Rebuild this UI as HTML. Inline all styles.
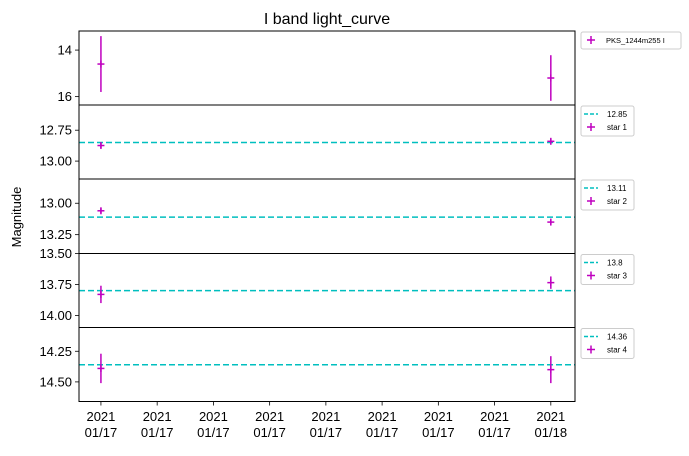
<!DOCTYPE html>
<html><head><meta charset="utf-8"><style>
body{margin:0;background:#fff}
svg{font-family:"Liberation Sans","DejaVu Sans",sans-serif}
</style></head><body>
<svg id="c" width="689" height="451" xmlns="http://www.w3.org/2000/svg">
<rect width="689" height="451" fill="#fff"/>
<text x="327" y="24" font-size="16" text-anchor="middle">I band light_curve</text>
<text transform="translate(21,217) rotate(-90)" font-size="13" text-anchor="middle">Magnitude</text>
<g id="g"></g>
</svg>
<script>
const xTickLabels=["2021\n01/17","2021\n01/17","2021\n01/17","2021\n01/17","2021\n01/17","2021\n01/17","2021\n01/17","2021\n01/17","2021\n01/18"];
const pointX=[0,8];
const srcMag=[14.6,15.2];
const srcErr=[1.2,0.98];
const star1Mag=[12.874,12.84];
const star1Err=[0.02,0.02];
const star2Mag=[13.06,13.15];
const star2Err=[0.02,0.02];
const star3Mag=[13.83,13.735];
const star3Err=[0.07,0.05];
const star4Mag=[14.39,14.40];
const star4Err=[0.12,0.11];
const refLevels=[null,12.85,13.11,13.8,14.36];
const legendLabels=["PKS_1244m255 I","star 1","star 2","star 3","star 4"];
const yTicks=[[14,16],[12.75,13.00],[13.00,13.25],[13.50,13.75,14.00],[14.25,14.50]];
const yTickText=[["14","16"],["12.75","13.00"],["13.00","13.25"],["13.50","13.75","14.00"],["14.25","14.50"]];
const yLims=[[13.18,16.36],[12.546,13.145],[12.807,13.40],[13.50,14.097],[14.056,14.66]];

const series=[[srcMag,srcErr],[star1Mag,star1Err],[star2Mag,star2Err],[star3Mag,star3Err],[star4Mag,star4Err]];
const NS="http://www.w3.org/2000/svg";
const g=document.getElementById('g');
const L=79,R=575,tops=[31,105,179,253.5,327.5,401.5];
const xs=v=>L+(v+0.39)/(8.82)*(R-L);
function el(t,a,p){const e=document.createElementNS(NS,t);for(const k in a)e.setAttribute(k,a[k]);(p||g).appendChild(e);return e;}
for(let i=0;i<5;i++){
  const t=tops[i],b=tops[i+1],lim=yLims[i];
  const ys=v=>t+(v-lim[0])/(lim[1]-lim[0])*(b-t);
  const pg=el('g',{});
  
  
  if(refLevels[i]!==null){
    const ln=el('line',{x1:L,x2:R,y1:ys(refLevels[i]),y2:ys(refLevels[i]),stroke:'#00bfbf','stroke-width':1.5,'stroke-dasharray':'6,3'},pg);
    
    
  }
  const [m,e]=series[i];
  for(let j=0;j<m.length;j++){
    const x=xs(pointX[j]),y=ys(m[j]);
    const pt=el('g',{stroke:'#bf00bf','stroke-width':1.5},pg);
    
    
    el('line',{x1:x,x2:x,y1:ys(m[j]-e[j]),y2:ys(m[j]+e[j])},pt);
    el('line',{x1:x,x2:x,y1:y-3.5,y2:y+3.5},pt);
    el('line',{x1:x-3.5,x2:x+3.5,y1:y,y2:y},pt);
  }
  yTicks[i].forEach((v,k)=>{
    const y=ys(v);
    el('line',{x1:L-4,x2:L,y1:y,y2:y,stroke:'#000','stroke-width':0.8},pg);
    const tx=el('text',{x:L-7,y:y+4.5,'font-size':13,'text-anchor':'end'},pg);
    tx.textContent=yTickText[i][k];
    
    
  });
  const fr=el('rect',{x:L,y:t,width:R-L,height:b-t,fill:'none',stroke:'#000','stroke-width':1},pg);
  
  
  const lg=el('g',{},pg);
  
  
  const w=i==0?100:53, h=i==0?17:30;
  el('rect',{x:581,y:t+1,width:w,height:h,rx:2,fill:'#fff',stroke:'#ccc','stroke-width':1},lg);
  let ly=t+9;
  if(i>0){
    el('line',{x1:584,x2:598,y1:ly,y2:ly,stroke:'#00bfbf','stroke-width':1.5,'stroke-dasharray':'4,2'},lg);
    const lt=el('text',{x:607,y:ly+3,'font-size':8},lg);lt.textContent=String(refLevels[i]);
    ly+=13;
  }
  el('line',{x1:591,x2:591,y1:ly-4,y2:ly+4,stroke:'#bf00bf','stroke-width':1.5},lg);
  el('line',{x1:587,x2:595,y1:ly,y2:ly,stroke:'#bf00bf','stroke-width':1.5},lg);
  const lt2=el('text',{x:i==0?606:607,y:ly+3,'font-size':i==0?7.5:8},lg);lt2.textContent=legendLabels[i];
}
xTickLabels.forEach((s,k)=>{
  const x=xs(k);
  el('line',{x1:x,x2:x,y1:401.5,y2:405.5,stroke:'#000','stroke-width':0.8});
  const parts=s.split("\n");
  parts.forEach((p,q)=>{
    const tx=el('text',{x:x,y:421+q*16,'font-size':13,'text-anchor':'middle'});
    tx.textContent=p;
    
    
  });
});
</script>
</body></html>
